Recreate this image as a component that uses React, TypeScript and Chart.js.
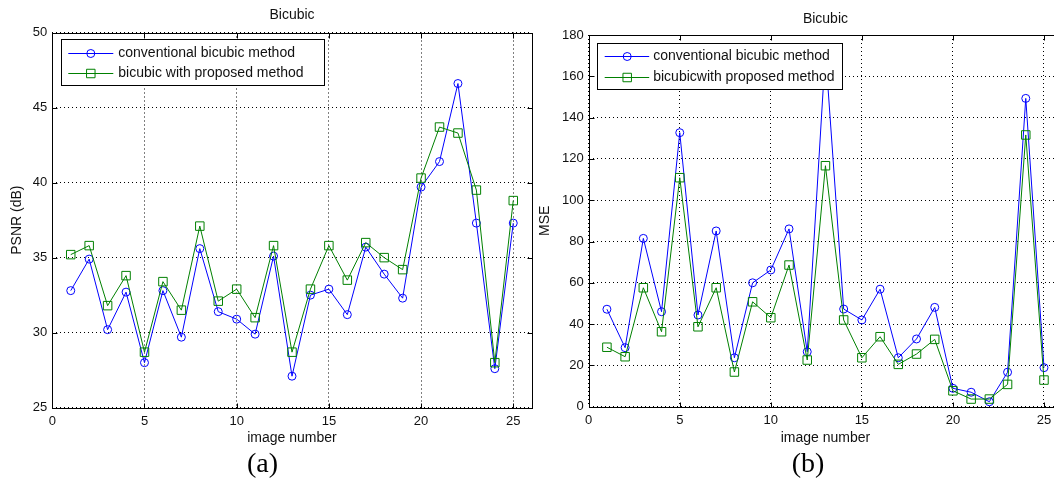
import React, { useEffect, useRef } from "react";
import { Chart, registerables } from "chart.js";

Chart.register(...registerables);

// ---- Data ----
const imageNumbers = [1, 2, 3, 4, 5, 6, 7, 8, 9, 10, 11, 12, 13, 14, 15, 16, 17, 18, 19, 20, 21, 22, 23, 24, 25];

const psnrConventional = [32.8, 34.9, 30.2, 32.7, 28.0, 32.8, 29.7, 35.6, 31.4, 30.9, 29.9, 35.1, 27.1, 32.5, 32.9, 31.2, 35.7, 33.9, 32.3, 39.7, 41.4, 46.6, 37.3, 27.6, 37.3];
const psnrProposed = [35.2, 35.8, 31.8, 33.8, 28.7, 33.4, 31.5, 37.1, 32.1, 32.9, 31.0, 35.8, 28.7, 32.9, 35.8, 33.5, 36.0, 35.0, 34.2, 40.3, 43.7, 43.3, 39.5, 28.0, 38.8];

const mseConventional = [47.2, 28.6, 81.5, 46.0, 132.7, 44.4, 85.1, 23.7, 60.0, 66.2, 86.1, 26.6, 172.0, 47.3, 42.0, 56.9, 23.7, 32.8, 48.1, 8.9, 7.0, 2.4, 16.7, 149.3, 18.9];
const mseProposed = [28.8, 24.2, 57.6, 36.3, 110.9, 38.7, 57.6, 16.8, 50.8, 43.1, 68.6, 22.6, 116.7, 42.0, 23.7, 33.9, 20.5, 25.5, 32.6, 7.7, 3.7, 3.7, 10.8, 131.6, 12.9];

const leftLegendLabels = ["conventional bicubic method", "bicubic with proposed method"];
const rightLegendLabels = ["conventional bicubic method", "bicubicwith proposed method"];

const chartTitle = "Bicubic";
const xAxisTitle = "image number";
const leftYTitle = "PSNR (dB)";
const rightYTitle = "MSE";

const SANS = '"Liberation Sans", Arial, Helvetica, sans-serif';
const BLUE = "#0000ff";
const GREEN = "#008000";

type Cfg = {
  conv: number[];
  prop: number[];
  labels: string[];
  yTitle: string;
  yMin: number;
  yMax: number;
  yStep: number;
  padRight: number;
  yWidth: number;
  xHeight: number;
  titlePad: { top: number; bottom: number };
  yTitlePad: number;
  xTitlePad: number;
  legend: { x: number; y: number; w: number; h: number; lineX0: number; lineX1: number; markerX: number; textX: number; rows: number[] };
};

function drawMarker(ctx: CanvasRenderingContext2D, style: string, x: number, y: number) {
  ctx.beginPath();
  if (style === "circle") {
    ctx.arc(x, y, 4, 0, Math.PI * 2);
  } else {
    const h = 6 * Math.SQRT1_2;
    ctx.rect(x - h, y - h, 2 * h, 2 * h);
  }
  ctx.stroke();
}

function makeChart(canvas: HTMLCanvasElement, cfg: Cfg) {
  const boxPlugin = {
    id: "matlabBox",
    afterLayout(chart: any) {
      const t = chart.titleBlock;
      if (t) {
        t.left = chart.chartArea.left;
        t.right = chart.chartArea.right;
      }
    },
    afterDraw(chart: any) {
      const ctx: CanvasRenderingContext2D = chart.ctx;
      const a = chart.chartArea;
      const xs = chart.scales.x;
      const ys = chart.scales.y;
      const L = Math.round(a.left) + 0.5;
      const R = Math.round(a.right) + 0.5;
      const T = Math.round(a.top) + 0.5;
      const B = Math.round(a.bottom) + 0.5;
      ctx.save();
      ctx.setLineDash([]);
      ctx.strokeStyle = "#000";
      ctx.lineWidth = 1;
      ctx.strokeRect(L, T, R - L, B - T);
      const tl = 5;
      ctx.beginPath();
      xs.ticks.forEach((t: any) => {
        const px = Math.round(xs.getPixelForValue(t.value)) + 0.5;
        ctx.moveTo(px, B);
        ctx.lineTo(px, B - tl);
        ctx.moveTo(px, T);
        ctx.lineTo(px, T + tl);
      });
      ys.ticks.forEach((t: any) => {
        const py = Math.round(ys.getPixelForValue(t.value)) + 0.5;
        ctx.moveTo(L, py);
        ctx.lineTo(L + tl, py);
        ctx.moveTo(R, py);
        ctx.lineTo(R - tl, py);
      });
      ctx.stroke();

      // legend
      const lg = cfg.legend;
      const bx = Math.round(a.left + lg.x) + 0.5;
      const by = Math.round(a.top + lg.y) + 0.5;
      ctx.fillStyle = "#fff";
      ctx.fillRect(bx, by, lg.w, lg.h);
      ctx.strokeStyle = "#000";
      ctx.strokeRect(bx, by, lg.w, lg.h);
      chart.data.datasets.forEach((ds: any, i: number) => {
        const y = Math.round(a.top + lg.rows[i]) + 0.5;
        ctx.strokeStyle = ds.borderColor;
        ctx.lineWidth = 1;
        ctx.beginPath();
        ctx.moveTo(a.left + lg.lineX0, y);
        ctx.lineTo(a.left + lg.lineX1, y);
        ctx.stroke();
        drawMarker(ctx, ds.pointStyle, a.left + lg.markerX, y);
        ctx.fillStyle = "#111";
        ctx.font = `14px ${SANS}`;
        ctx.textBaseline = "middle";
        ctx.textAlign = "left";
        ctx.fillText(ds.label, a.left + lg.textX, y);
      });
      ctx.restore();
    },
  };

  return new Chart(canvas, {
    type: "line",
    data: {
      datasets: [
        {
          label: cfg.labels[0],
          data: imageNumbers.map((x, i) => ({ x, y: cfg.conv[i] })),
          borderColor: BLUE,
          backgroundColor: "rgba(0,0,0,0)",
          borderWidth: 1,
          pointStyle: "circle",
          pointRadius: 4,
          pointBorderWidth: 1,
          pointBorderColor: BLUE,
          pointBackgroundColor: "rgba(0,0,0,0)",
          tension: 0,
          fill: false,
          order: 1,
        },
        {
          label: cfg.labels[1],
          data: imageNumbers.map((x, i) => ({ x, y: cfg.prop[i] })),
          borderColor: GREEN,
          backgroundColor: "rgba(0,0,0,0)",
          borderWidth: 1,
          pointStyle: "rect",
          pointRadius: 6,
          pointBorderWidth: 1,
          pointBorderColor: GREEN,
          pointBackgroundColor: "rgba(0,0,0,0)",
          tension: 0,
          fill: false,
          order: 0,
        },
      ],
    },
    options: {
      responsive: false,
      animation: false,
      events: [],
      layout: { padding: { left: 0, right: cfg.padRight, top: 0, bottom: 0 } },
      plugins: {
        legend: { display: false },
        tooltip: { enabled: false },
        title: {
          display: true,
          text: chartTitle,
          color: "#111",
          font: { size: 14, family: SANS, weight: "normal" },
          padding: cfg.titlePad,
        },
      },
      scales: {
        x: {
          type: "linear",
          min: 0,
          max: 26,
          afterFit: (s: any) => {
            s.height = cfg.xHeight;
          },
          ticks: {
            stepSize: 5,
            includeBounds: false,
            autoSkip: false,
            maxRotation: 0,
            padding: 6,
            color: "#111",
            font: { size: 13, family: SANS },
          },
          grid: { color: "#000", lineWidth: 1, drawTicks: false },
          border: { display: false, dash: [1, 3] },
          title: {
            display: true,
            text: xAxisTitle,
            color: "#111",
            font: { size: 14, family: SANS },
            padding: { top: 0, bottom: cfg.xTitlePad },
          },
        },
        y: {
          type: "linear",
          min: cfg.yMin,
          max: cfg.yMax,
          afterFit: (s: any) => {
            s.width = cfg.yWidth;
          },
          ticks: {
            stepSize: cfg.yStep,
            autoSkip: false,
            padding: 5,
            color: "#111",
            font: { size: 13, family: SANS },
          },
          grid: { color: "#000", lineWidth: 1, drawTicks: false },
          border: { display: false, dash: [1, 3] },
          title: {
            display: true,
            text: cfg.yTitle,
            color: "#111",
            font: { size: 14, family: SANS },
            padding: { top: cfg.yTitlePad, bottom: 0 },
          },
        },
      },
    },
    plugins: [boxPlugin],
  } as any);
}

const leftCfg: Cfg = {
  conv: psnrConventional,
  prop: psnrProposed,
  labels: leftLegendLabels,
  yTitle: leftYTitle,
  yMin: 25,
  yMax: 50,
  yStep: 5,
  padRight: 13.3,
  yWidth: 52.3,
  xHeight: 47.3,
  titlePad: { top: 6.5, bottom: 9.2 },
  yTitlePad: 9.1,
  xTitlePad: 8.1,
  legend: { x: 9, y: 6.5, w: 263, h: 46, lineX0: 16, lineX1: 61, markerX: 38.5, textX: 66, rows: [20.8, 40.8] },
};

const rightCfg: Cfg = {
  conv: mseConventional,
  prop: mseProposed,
  labels: rightLegendLabels,
  yTitle: rightYTitle,
  yMin: 0,
  yMax: 180,
  yStep: 20,
  padRight: 12.8,
  yWidth: 53.7,
  xHeight: 48.3,
  titlePad: { top: 10.3, bottom: 7.9 },
  yTitlePad: 1.9,
  xTitlePad: 8.6,
  legend: { x: 8, y: 8.3, w: 245, h: 46, lineX0: 16, lineX1: 60.5, markerX: 38.5, textX: 64.5, rows: [20.7, 41.7] },
};

export default function App() {
  const leftRef = useRef<HTMLCanvasElement>(null);
  const rightRef = useRef<HTMLCanvasElement>(null);

  useEffect(() => {
    const c1 = makeChart(leftRef.current as HTMLCanvasElement, leftCfg);
    const c2 = makeChart(rightRef.current as HTMLCanvasElement, rightCfg);
    return () => {
      c1.destroy();
      c2.destroy();
    };
  }, []);

  const capStyle: React.CSSProperties = {
    position: "absolute",
    top: 449,
    width: 100,
    textAlign: "center",
    fontFamily: '"Liberation Serif", "Times New Roman", serif',
    fontSize: 28,
    lineHeight: "28px",
    color: "#000",
  };

  return (
    <div style={{ position: "absolute", left: 0, top: 0, width: 1054, height: 479, overflow: "hidden", background: "#fff" }}>
      <canvas ref={leftRef} width={545} height={455} style={{ position: "absolute", left: 0, top: 0 }} />
      <canvas ref={rightRef} width={540} height={455} style={{ position: "absolute", left: 535, top: 0 }} />
      <div style={{ ...capStyle, left: 212.5 }}>(a)</div>
      <div style={{ ...capStyle, left: 758 }}>(b)</div>
    </div>
  );
}
